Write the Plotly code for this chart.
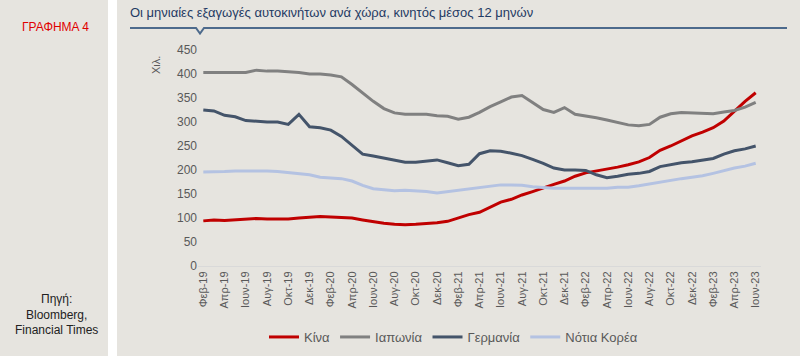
import plotly.graph_objects as go

# ---- data ----
month_names = ["Ιαν", "Φεβ", "Μαρ", "Απρ", "Μαϊ", "Ιουν", "Ιουλ", "Αυγ", "Σεπ", "Οκτ", "Νοε", "Δεκ"]
months = []
for yy in range(19, 24):
    for mi, mn in enumerate(month_names):
        if (yy == 19 and mi < 1) or (yy == 23 and mi > 5):
            continue
        months.append(f"{mn}-{yy}")
tick_labels = months[::2]

china = [94, 96, 95, 96, 97, 99, 98, 98, 98, 100, 102, 103, 102, 101, 100, 96, 92, 89, 87, 86, 87, 88, 90, 93,
         100, 107, 112, 123, 133, 139, 148, 155, 163, 170, 177, 187, 194, 198, 201, 206, 211, 217, 226, 241,
         250, 260, 271, 279, 288, 302, 323, 343, 361]
japan = [403, 403, 402, 403, 403, 408, 406, 406, 405, 403, 400, 400, 398, 394, 378, 360, 343, 328, 319, 316, 316,
         316, 313, 312, 306, 310, 320, 332, 342, 352, 355, 340, 326, 320, 330, 316, 313, 309, 304, 299, 294, 292,
         295, 310, 317, 320, 319, 318, 317, 321, 324, 331, 341]
germany = [325, 323, 314, 311, 303, 301, 300, 300, 295, 316, 290, 288, 283, 270, 252, 233, 229, 225, 220, 216, 216,
           218, 221, 215, 209, 212, 234, 240, 239, 235, 230, 222, 214, 204, 200, 200, 199, 190, 184, 187, 191, 193,
           197, 207, 211, 215, 217, 220, 224, 233, 240, 244, 250]
korea = [196, 196, 197, 198, 198, 199, 198, 197, 195, 193, 190, 185, 184, 182, 177, 168, 161, 159, 157, 158, 157,
         155, 152, 155, 158, 160, 164, 167, 169, 169, 168, 165, 163, 162, 162, 162, 161, 161, 162, 164, 164, 167,
         171, 175, 179, 182, 185, 188, 193, 199, 204, 208, 214]

series = [("Κίνα", china, "#c00000"),
          ("Ιαπωνία", japan, "#808080"),
          ("Γερμανία", germany, "#44546a"),
          ("Νότια Κορέα", korea, "#b4c2e2")]

# ---- layout geometry (pixels) ----
W, H = 800, 356
L, R, T, B = 198, 761, 50, 266


def px(x):
    return (x - L) / (R - L)


def py(y):
    return (B - y) / (B - T)


fig = go.Figure()
for name, vals, col in series:
    fig.add_trace(go.Scatter(x=months, y=vals, name=name, mode="lines",
                             line=dict(color=col, width=3)))

bg = "#e6e4df"
title_col = "#1f3a63"
line_col = "#4d6a8c"

path = (f"M {px(130)},{py(28)} L {px(196)},{py(28)} L {px(200)},{py(33.5)} "
        f"L {px(204)},{py(28)} L {px(787)},{py(28)}")

fig.update_layout(
    width=W, height=H,
    margin=dict(l=L, r=W - R, t=T, b=H - B, autoexpand=False),
    paper_bgcolor=bg, plot_bgcolor=bg,
    font=dict(family="Liberation Sans, Arial, sans-serif", color="#595959", size=12),
    showlegend=True,
    legend=dict(orientation="h", xref="container", yref="container",
                x=264 / W, xanchor="left", y=1 - 337 / H, yanchor="middle",
                font=dict(size=13, color="#595959"), itemwidth=30, bgcolor="rgba(0,0,0,0)"),
    xaxis=dict(type="category", range=[-0.5, len(months) - 0.5], tickmode="array",
               tickvals=tick_labels, ticktext=tick_labels, tickangle=-90, automargin=False,
               tickfont=dict(size=11, color="#595959"), showgrid=False, zeroline=False,
               showline=True, linecolor="#d9d9d9", linewidth=1, ticks=""),
    yaxis=dict(range=[0, 450], tickvals=list(range(0, 451, 50)), showgrid=False, zeroline=False,
               automargin=False, showline=False, tickfont=dict(size=12, color="#595959"), ticks=""),
    shapes=[
        dict(type="rect", xref="paper", yref="paper", x0=px(108), x1=px(117), y0=py(H + 5), y1=py(-5),
             fillcolor="white", line=dict(width=0), layer="below"),
        dict(type="path", xref="paper", yref="paper", path=path,
             line=dict(color=line_col, width=2)),
    ],
    annotations=[
        dict(text="Οι μηνιαίες εξαγωγές αυτοκινήτων ανά χώρα, κινητός μέσος 12 μηνών",
             xref="paper", yref="paper", x=px(128), y=py(12), xanchor="left", yanchor="middle",
             showarrow=False, font=dict(size=13, color=title_col)),
        dict(text="ΓΡΑΦΗΜΑ 4", xref="paper", yref="paper", x=px(55), y=py(27), xanchor="center",
             yanchor="middle", showarrow=False, font=dict(size=12, color="#e00000")),
        dict(text="Πηγή:<br>Bloomberg,<br>Financial Times", xref="paper", yref="paper", x=px(56), y=py(314),
             xanchor="center", yanchor="middle", showarrow=False, align="center",
             font=dict(size=12, color="#222222")),
        dict(text="Χιλ.", xref="paper", yref="paper", x=px(156), y=py(65), xanchor="center",
             yanchor="middle", showarrow=False, textangle=-90, font=dict(size=11, color="#595959")),
    ],
)

fig.write_html("out.html", config={"displayModeBar": False},
               post_script="document.body.style.margin='0';")
